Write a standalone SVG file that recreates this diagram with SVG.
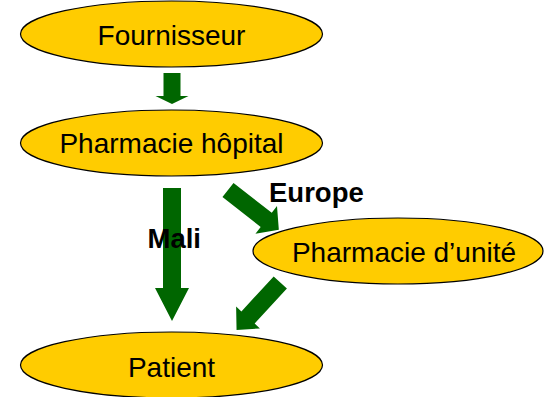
<svg xmlns="http://www.w3.org/2000/svg" width="545" height="397" viewBox="0 0 545 397">
<style>
.node ellipse{fill:#FFCC00;stroke:#000;stroke-width:1.2}
.node text{font-family:"Liberation Sans",Arial,sans-serif;font-size:28px;fill:#000;text-anchor:middle}
.arrow{fill:#006600}
.lbl{font-family:"Liberation Sans",Arial,sans-serif;font-size:27.5px;font-weight:bold;fill:#000}
</style>
<rect width="545" height="397" fill="#fff"/>
<g id="fournisseur" class="node">
<ellipse cx="171.5" cy="34" rx="151" ry="33"/>
<text x="171.5" y="45">Fournisseur</text>
</g>
<g id="pharmacie-hopital" class="node">
<ellipse cx="171.5" cy="143" rx="151" ry="33"/>
<text x="171.5" y="153">Pharmacie hôpital</text>
</g>
<g id="pharmacie-unite" class="node">
<ellipse cx="398" cy="251" rx="145" ry="33"/>
<text x="404" y="261.5">Pharmacie d’unité</text>
</g>
<g id="patient" class="node">
<ellipse cx="171.5" cy="365" rx="151" ry="33"/>
<text x="171.5" y="376.5">Patient</text>
</g>
<g id="connectors">
<polygon class="arrow" points="163.5,73 180.5,73 180.5,96 188.5,96 172,104 155.5,96 163.5,96"/>
<polygon class="arrow" points="163,188 181,188 181,288 189,288 172,321 155,288 163,288"/>
<polygon class="arrow" transform="translate(228,190) rotate(38)" points="0,-9 48.5,-9 48.5,-17.5 64.5,0 48.5,17.5 48.5,9 0,9"/>
<polygon class="arrow" transform="translate(280.3,282.5) rotate(132.7)" points="0,-9 47.6,-9 47.6,-16.2 64.5,0 47.6,16.2 47.6,9 0,9"/>
</g>
<g id="labels">
<text class="lbl" x="269" y="201.5">Europe</text>
<text class="lbl" x="147.5" y="248">Mali</text>
</g>
</svg>
